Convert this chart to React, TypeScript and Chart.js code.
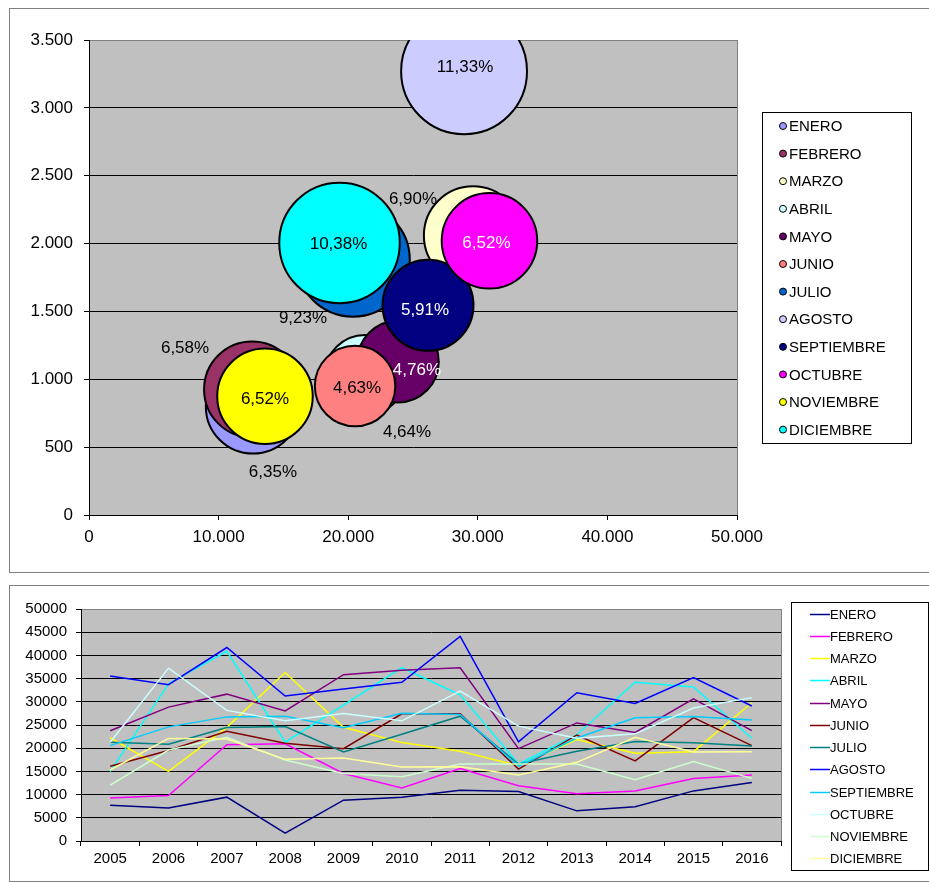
import React, { useEffect, useRef } from "react";
import { Chart, registerables } from "chart.js";

Chart.register(...registerables);

const FONT = '"Liberation Sans", Arial, sans-serif';

// ---------- Data ----------
const MONTHS = [
  "ENERO", "FEBRERO", "MARZO", "ABRIL", "MAYO", "JUNIO",
  "JULIO", "AGOSTO", "SEPTIEMBRE", "OCTUBRE", "NOVIEMBRE", "DICIEMBRE",
];

// Bubble chart (x, y, bubble size in %)
const BUBBLE_X = [12650, 12580, 29630, 21300, 23840, 20530, 20370, 28940, 26160, 30900, 13580, 19330];
const BUBBLE_Y = [800, 925, 2060, 1030, 1130, 950, 1880, 3270, 1545, 2020, 875, 2005];
const BUBBLE_SIZE = [6.35, 6.58, 6.9, 4.64, 4.76, 4.63, 9.23, 11.33, 5.91, 6.52, 6.52, 10.38];

// Line chart
const YEARS = ["2005", "2006", "2007", "2008", "2009", "2010", "2011", "2012", "2013", "2014", "2015", "2016"];
const ENERO = [7700, 7100, 9450, 1700, 8800, 9450, 10950, 10650, 6500, 7400, 10800, 12600];
const FEBRERO = [9250, 9800, 20750, 20950, 14550, 11450, 15600, 11900, 10200, 10800, 13450, 14200];
const MARZO = [22250, 15000, 24500, 36300, 24500, 21250, 19350, 16200, 21850, 18900, 19250, 29800];
const ABRIL = [14950, 33900, 40900, 21300, 29300, 37350, 31500, 16600, 22900, 34200, 33200, 22150];
const MAYO = [23750, 28850, 31650, 28050, 35850, 36800, 37350, 19900, 25450, 23400, 30650, 23800];
const JUNIO = [16100, 19500, 23650, 21050, 19900, 27400, 27400, 15500, 22850, 17250, 26600, 20550];
const JULIO = [21300, 20850, 24450, 24650, 19200, 23000, 26900, 16600, 19350, 21450, 21150, 20500];
const AGOSTO = [35550, 33700, 41700, 31250, 32750, 34200, 44100, 21350, 31950, 29650, 35200, 29100];
const SEPTIEMBRE = [20550, 24600, 26750, 26900, 24400, 27550, 27250, 16100, 22200, 26550, 26850, 26100];
const OCTUBRE = [21300, 37250, 28150, 25900, 27500, 25900, 32300, 24750, 22150, 23100, 28650, 30900];
const NOVIEMBRE = [12050, 19600, 22350, 17450, 14550, 13850, 16600, 16600, 16600, 13200, 17150, 13500];
const DICIEMBRE = [15300, 22100, 22000, 17600, 17900, 15950, 16000, 14200, 16950, 22350, 19200, 19250];
const LINE_SERIES = [ENERO, FEBRERO, MARZO, ABRIL, MAYO, JUNIO, JULIO, AGOSTO, SEPTIEMBRE, OCTUBRE, NOVIEMBRE, DICIEMBRE];

// ---------- Styles ----------
const BUBBLE_COLORS = [
  "#9999FF", "#993366", "#FFFFCC", "#CCFFFF", "#660066", "#FF8080",
  "#0066CC", "#CCCCFF", "#000080", "#FF00FF", "#FFFF00", "#00FFFF",
];
const LINE_COLORS = [
  "#000080", "#FF00FF", "#FFFF00", "#00FFFF", "#800080", "#800000",
  "#008080", "#0000FF", "#00CCFF", "#CCFFFF", "#CCFFCC", "#FFFF99",
];
const BUBBLE_RADIUS_SCALE = 18.7; // px per sqrt(size)
// label offset from bubble centre, px
const LABEL_OFFSETS = [
  [20, 66], [-67, -41], [-60, -36], [42, 57], [19, 9], [2, 2],
  [-50, 58], [1, -4], [-3, 5], [-3, 2], [0, 3], [-1, 1],
];
const LABEL_COLORS = ["#000", "#000", "#000", "#000", "#fff", "#000", "#000", "#000", "#fff", "#fff", "#000", "#000"];

const fmtThousands = (v: number) => String(v).replace(/\B(?=(\d{3})+(?!\d))/g, ".");
const fmtPct = (v: number) => v.toFixed(2).replace(".", ",") + "%";

const plotBackground = {
  id: "plotBackground",
  beforeDraw(chart: any) {
    const { ctx, chartArea: a } = chart;
    ctx.save();
    ctx.fillStyle = "#C0C0C0";
    ctx.fillRect(a.left, a.top, a.right - a.left, a.bottom - a.top);
    ctx.strokeStyle = "#808080";
    ctx.lineWidth = 1;
    ctx.strokeRect(Math.round(a.left) + 0.5, Math.round(a.top) + 0.5, Math.round(a.right - a.left), Math.round(a.bottom - a.top));
    ctx.restore();
  },
};

const bubbleLabels = {
  id: "bubbleLabels",
  afterDatasetsDraw(chart: any) {
    const ctx = chart.ctx;
    ctx.save();
    ctx.font = `17px ${FONT}`;
    ctx.textAlign = "center";
    ctx.textBaseline = "middle";
    chart.data.datasets.forEach((ds: any, i: number) => {
      const el = chart.getDatasetMeta(i).data[0];
      if (!el) return;
      const [dx, dy] = LABEL_OFFSETS[i];
      ctx.fillStyle = LABEL_COLORS[i];
      ctx.fillText(fmtPct(BUBBLE_SIZE[i]), el.x + dx, el.y + dy);
    });
    ctx.restore();
  },
};

const bubbleLegend = {
  id: "bubbleLegend",
  afterDraw(chart: any) {
    const ctx = chart.ctx;
    ctx.save();
    ctx.strokeStyle = "#000";
    ctx.lineWidth = 1;
    ctx.strokeRect(753.5, 104.5, 149, 331);
    ctx.font = `15px ${FONT}`;
    ctx.textAlign = "left";
    ctx.textBaseline = "middle";
    chart.data.datasets.forEach((ds: any, i: number) => {
      const y = 118 + 27.6 * i;
      ctx.beginPath();
      ctx.arc(774, y, 3.5, 0, Math.PI * 2);
      ctx.fillStyle = ds.backgroundColor;
      ctx.fill();
      ctx.strokeStyle = "#000";
      ctx.lineWidth = 1;
      ctx.stroke();
      ctx.fillStyle = "#000";
      ctx.fillText(ds.label, 780, y + 1);
    });
    ctx.restore();
  },
};

const lineLegend = {
  id: "lineLegend",
  afterDraw(chart: any) {
    const ctx = chart.ctx;
    ctx.save();
    ctx.strokeStyle = "#000";
    ctx.lineWidth = 1;
    ctx.strokeRect(782.5, 17.5, 137, 268);
    ctx.font = `13px ${FONT}`;
    ctx.textAlign = "left";
    ctx.textBaseline = "middle";
    chart.data.datasets.forEach((ds: any, i: number) => {
      const y = Math.round(28.5 + 22.27 * i);
      ctx.beginPath();
      ctx.moveTo(801, y + 0.5);
      ctx.lineTo(821, y + 0.5);
      ctx.strokeStyle = ds.borderColor;
      ctx.lineWidth = 1.5;
      ctx.stroke();
      ctx.fillStyle = "#000";
      ctx.fillText(ds.label, 821, y + 1);
    });
    ctx.restore();
  },
};

function BubbleChart() {
  const ref = useRef<HTMLCanvasElement>(null);
  useEffect(() => {
    const n = MONTHS.length;
    const chart = new Chart(ref.current as HTMLCanvasElement, {
      type: "bubble",
      data: {
        datasets: MONTHS.map((m, i) => ({
          label: m,
          data: [{ x: BUBBLE_X[i], y: BUBBLE_Y[i], r: BUBBLE_RADIUS_SCALE * Math.sqrt(BUBBLE_SIZE[i]) }],
          backgroundColor: BUBBLE_COLORS[i],
          borderColor: "#000",
          borderWidth: 2,
          order: n - i,
          clip: 0,
        })),
      } as any,
      options: {
        responsive: false,
        animation: false,
        events: [],
        layout: { autoPadding: false, padding: { left: 0, top: 32, right: 192, bottom: 0 } },
        plugins: { legend: { display: false }, tooltip: { enabled: false } },
        scales: {
          x: {
            type: "linear",
            min: 0,
            max: 50000,
            ticks: {
              stepSize: 10000,
              callback: (v: any) => fmtThousands(Number(v)),
              color: "#000",
              font: { family: FONT, size: 17 },
              padding: 7,
              maxRotation: 0,
            },
            grid: { drawOnChartArea: false, drawTicks: true, tickLength: 5, color: "#000" },
            border: { color: "#000", width: 1 },
            afterFit: (s: any) => { s.height = 58; },
          },
          y: {
            type: "linear",
            min: 0,
            max: 3500,
            ticks: {
              stepSize: 500,
              callback: (v: any) => fmtThousands(Number(v)),
              color: "#000",
              font: { family: FONT, size: 17 },
              padding: 11,
            },
            grid: {
              color: (c: any) => (c.tick && c.tick.value === 3500 ? "#808080" : "#000"),
              tickColor: "#000",
              tickLength: 5,
            },
            border: { color: "#000", width: 1 },
            afterFit: (s: any) => { s.width = 80; },
          },
        },
      } as any,
      plugins: [plotBackground, bubbleLabels, bubbleLegend],
    });
    return () => chart.destroy();
  }, []);
  return <canvas ref={ref} width={920} height={565} style={{ position: "absolute", left: 9, top: 8, width: 920, height: 565 }} />;
}

function LineChart() {
  const ref = useRef<HTMLCanvasElement>(null);
  useEffect(() => {
    const n = MONTHS.length;
    const chart = new Chart(ref.current as HTMLCanvasElement, {
      type: "line",
      data: {
        labels: YEARS,
        datasets: MONTHS.map((m, i) => ({
          label: m,
          data: LINE_SERIES[i],
          borderColor: LINE_COLORS[i],
          backgroundColor: LINE_COLORS[i],
          borderWidth: 1.5,
          pointRadius: 0,
          tension: 0,
          fill: false,
          order: n - i,
        })),
      },
      options: {
        responsive: false,
        animation: false,
        events: [],
        layout: { autoPadding: false, padding: { left: 0, top: 24, right: 148, bottom: 0 } },
        plugins: { legend: { display: false }, tooltip: { enabled: false } },
        scales: {
          x: {
            type: "category",
            offset: true,
            ticks: {
              color: "#000",
              font: { family: FONT, size: 15 },
              padding: 4,
              maxRotation: 0,
              autoSkip: false,
            },
            grid: { offset: true, drawOnChartArea: false, drawTicks: true, tickLength: 5, color: "#000" },
            border: { color: "#000", width: 1 },
            afterFit: (s: any) => { s.height = 41; },
          },
          y: {
            type: "linear",
            min: 0,
            max: 50000,
            ticks: {
              stepSize: 5000,
              color: "#000",
              font: { family: FONT, size: 15 },
              padding: 9,
              callback: (v: any) => String(v),
            },
            grid: {
              color: (c: any) => (c.tick && c.tick.value === 50000 ? "#808080" : "#000"),
              tickColor: "#000",
              tickLength: 5,
            },
            border: { color: "#000", width: 1 },
            afterFit: (s: any) => { s.width = 72; },
          },
        },
      } as any,
      plugins: [plotBackground, lineLegend],
    });
    return () => chart.destroy();
  }, []);
  return <canvas ref={ref} width={920} height={297} style={{ position: "absolute", left: 9, top: 585, width: 920, height: 297 }} />;
}

export default function App() {
  return (
    <div style={{ position: "absolute", left: 0, top: 0, width: 929, height: 882, overflow: "hidden", background: "#fff" }}>
      <div style={{ position: "absolute", left: 9, top: 8, width: 960, height: 565, boxSizing: "border-box", border: "1px solid #808080" }} />
      <div style={{ position: "absolute", left: 9, top: 585, width: 960, height: 297, boxSizing: "border-box", border: "1px solid #808080" }} />
      <BubbleChart />
      <LineChart />
    </div>
  );
}
